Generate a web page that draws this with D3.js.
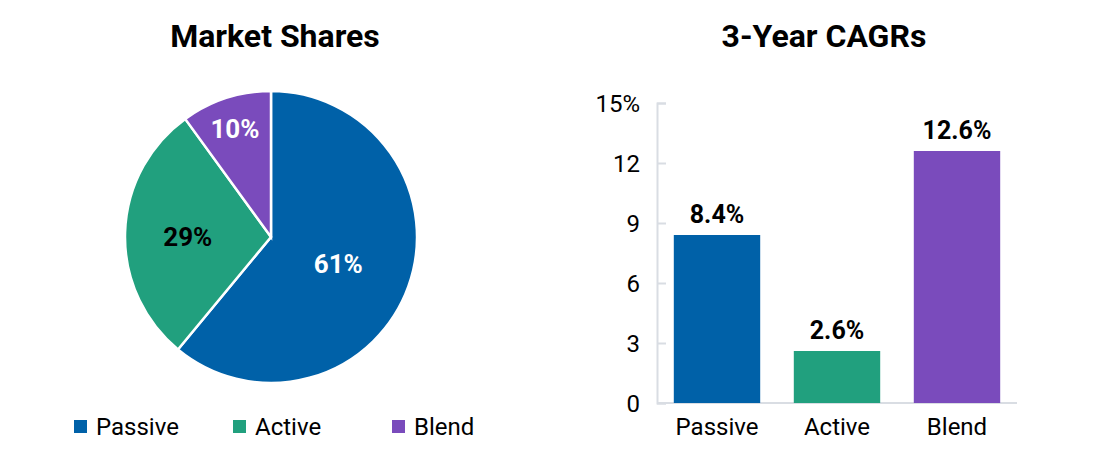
<!DOCTYPE html>
<html>
<head>
<meta charset="utf-8">
<script src="https://cdn.jsdelivr.net/npm/d3@7"></script>
<style>
  body { margin: 0; background: #fff; }
  svg text { font-family: Roboto, "Open Sans", sans-serif; }
</style>
</head>
<body>
<div id="chart"></div>
<script>
// data
const categories = ["Passive", "Active", "Blend"]
const marketShares = [61, 29, 10]
const cagrs = [8.4, 2.6, 12.6]
const yTicks = [0, 3, 6, 9, 12, 15]
const colors = ["#0061a8", "#21a07e", "#7a4bbc"]

const width = 1100
const height = 468

const svg = d3.select("#chart")
  .append("svg")
  .attr("width", width)
  .attr("height", height)

// ---- pie ----
const pieCx = 271, pieCy = 237, radius = 146

svg.append("text")
  .attr("x", 275)
  .attr("y", 47)
  .attr("text-anchor", "middle")
  .style("font-size", "32px")
  .style("font-weight", "bold")
  .text("Market Shares")

const pie = d3.pie().sort(null).value(d => d)
const arcs = pie(marketShares)
const arc = d3.arc().innerRadius(0).outerRadius(radius)

const pieG = svg.append("g").attr("transform", `translate(${pieCx},${pieCy})`)

pieG.selectAll("path")
  .data(arcs)
  .join("path")
  .attr("d", arc)
  .attr("fill", (d, i) => colors[i])
  .attr("stroke", "#fff")
  .attr("stroke-width", 2.5)

// smaller slices get their label pushed further out
const labelPos = d => {
  const span = (d.endAngle - d.startAngle) / (2 * Math.PI)
  const r = span < 0.15 ? radius * 0.8 : span < 0.4 ? radius * 0.57 : radius * 0.49
  return d3.arc().innerRadius(r).outerRadius(r).centroid(d)
}

pieG.selectAll("text.slice")
  .data(arcs)
  .join("text")
  .attr("class", "slice")
  .attr("transform", d => `translate(${labelPos(d)})`)
  .attr("text-anchor", "middle")
  .attr("dy", "0.45em")
  .style("font-size", "26px")
  .style("font-weight", "bold")
  .style("fill", (d, i) => i === 1 ? "#000" : "#fff")
  .text(d => d.data + "%")

// legend
const legendX = [74, 233, 392]
const legend = svg.append("g")
  .selectAll("g")
  .data(categories)
  .join("g")
  .attr("transform", (d, i) => `translate(${legendX[i]},420)`)

legend.append("rect")
  .attr("width", 13)
  .attr("height", 13)
  .attr("fill", (d, i) => colors[i])

legend.append("text")
  .attr("x", 22)
  .attr("y", 14.5)
  .style("font-size", "24px")
  .text(d => d)

// ---- bars ----
svg.append("text")
  .attr("x", 824)
  .attr("y", 47)
  .attr("text-anchor", "middle")
  .style("font-size", "32px")
  .style("font-weight", "bold")
  .text("3-Year CAGRs")

const x = d3.scaleBand()
  .domain(categories)
  .range([657, 1017])
  .paddingInner(0.28)
  .paddingOuter(0.14)

const y = d3.scaleLinear()
  .domain([0, 15])
  .range([403, 103])

const yAxis = svg.append("g")
  .attr("transform", "translate(657,0)")
  .call(d3.axisRight(y).tickValues(yTicks).tickSize(9).tickFormat(""))
yAxis.select(".domain").attr("stroke", "#d9dde3").attr("stroke-width", 2)
yAxis.selectAll(".tick line").attr("stroke", "#d9dde3").attr("stroke-width", 2)

svg.append("g")
  .selectAll("text")
  .data(yTicks)
  .join("text")
  .attr("x", 640)
  .attr("y", d => y(d))
  .attr("dy", "0.36em")
  .attr("text-anchor", "end")
  .style("font-size", "24px")
  .text(d => d === 15 ? d + "%" : d)

svg.append("line")
  .attr("x1", 657).attr("x2", 1017)
  .attr("y1", y(0)).attr("y2", y(0))
  .attr("stroke", "#d9dde3")
  .attr("stroke-width", 2)

svg.append("g")
  .selectAll("rect")
  .data(cagrs)
  .join("rect")
  .attr("x", (d, i) => x(categories[i]))
  .attr("width", x.bandwidth())
  .attr("y", d => y(d))
  .attr("height", d => y(0) - y(d))
  .attr("fill", (d, i) => colors[i])

svg.append("g")
  .selectAll("text")
  .data(cagrs)
  .join("text")
  .attr("x", (d, i) => x(categories[i]) + x.bandwidth() / 2)
  .attr("y", d => y(d) - 12)
  .attr("text-anchor", "middle")
  .style("font-size", "25px")
  .style("font-weight", "bold")
  .text(d => d.toFixed(1) + "%")

svg.append("g")
  .selectAll("text")
  .data(categories)
  .join("text")
  .attr("x", d => x(d) + x.bandwidth() / 2)
  .attr("y", 435)
  .attr("text-anchor", "middle")
  .style("font-size", "24px")
  .text(d => d)
</script>
</body>
</html>
